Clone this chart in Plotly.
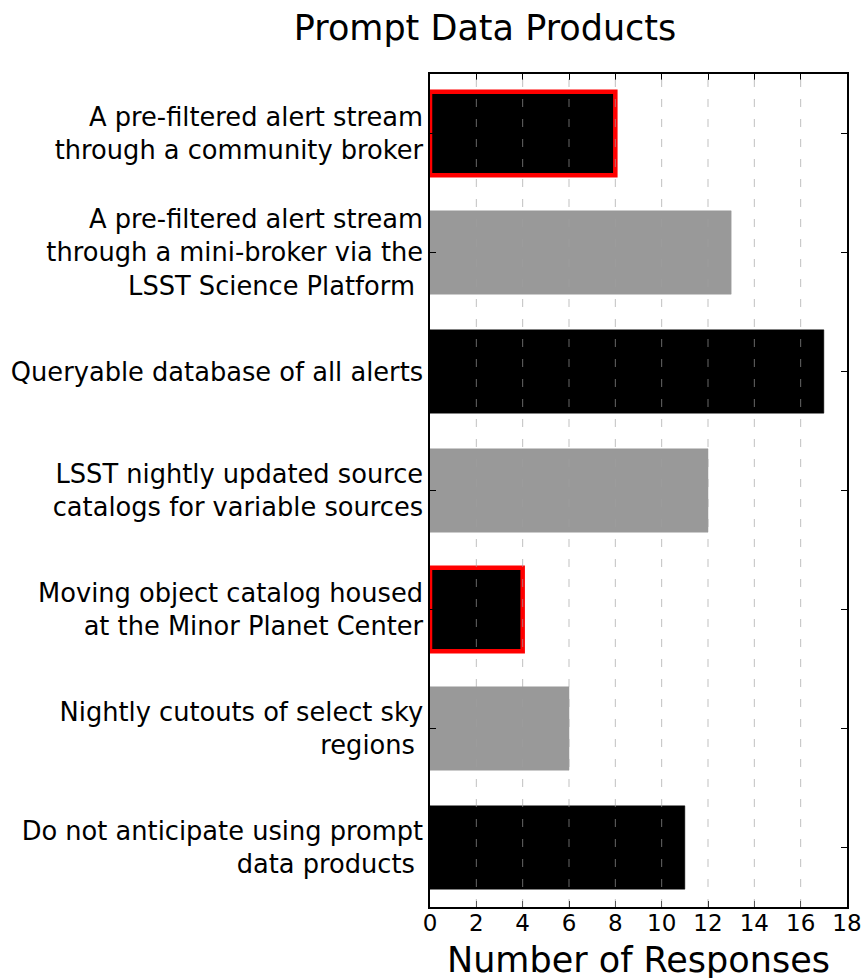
import plotly.graph_objects as go

categories = [
    "A pre-filtered alert stream<br>through a community broker",
    "A pre-filtered alert stream<br>through a mini-broker via the<br>LSST Science Platform\u00a0",
    "Queryable database of all alerts",
    "LSST nightly updated source<br>catalogs for variable sources",
    "Moving object catalog housed<br>at the Minor Planet Center",
    "Nightly cutouts of select sky<br>regions\u00a0",
    "Do not anticipate using prompt<br>data products\u00a0",
]
responses = [8, 13, 17, 12, 4, 6, 11]
highlighted = [True, False, False, False, True, False, False]
x_ticks = [0, 2, 4, 6, 8, 10, 12, 14, 16, 18]

positions = list(range(len(categories)))
fill_colors = ["#000000" if i % 2 == 0 else "#999999" for i in positions]
edge_colors = ["#ff0000" if h else c for h, c in zip(highlighted, fill_colors)]
edge_widths = [4.5 if h else 0.5 for h in highlighted]

FONT = "DejaVu Sans"
W, H = 863, 978

fig = go.Figure()
fig.add_trace(go.Bar(
    x=responses,
    y=positions,
    orientation="h",
    width=0.7,
    marker=dict(color=fill_colors, line=dict(color=edge_colors, width=edge_widths)),
    showlegend=False,
    hoverinfo="x",
))

# dashed vertical grid lines drawn above the bars
for t in x_ticks[1:-1]:
    fig.add_shape(
        type="line", xref="x", yref="paper", x0=t, x1=t, y0=0, y1=1,
        line=dict(color="rgba(160,160,160,0.65)", width=1, dash="8px,12px"),
        layer="above",
    )

# x-axis title as an annotation for exact placement
fig.add_annotation(
    text="Number of Responses", xref="paper", yref="paper",
    x=0.5, y=0, xanchor="center", yanchor="middle", yshift=-53,
    showarrow=False, font=dict(family=FONT, size=35, color="black"),
)

fig.update_layout(
    width=W, height=H,
    margin=dict(l=430, r=16, t=74, b=71, pad=0),
    paper_bgcolor="white", plot_bgcolor="white",
    font=dict(family=FONT, color="black"),
    title=dict(
        text="Prompt Data Products",
        font=dict(family=FONT, size=35, color="black"),
        xref="paper", x=0.132, xanchor="center",
        yref="container", y=1 - 28 / H, yanchor="middle",
    ),
)
fig.update_xaxes(
    range=[0, 18], tickvals=x_ticks, ticktext=[str(t) for t in x_ticks],
    showgrid=False, zeroline=False,
    showline=True, linecolor="black", linewidth=1.5, mirror="ticks",
    ticks="inside", ticklen=6, tickcolor="black", tickwidth=1,
    tickfont=dict(family=FONT, size=23, color="black"),
    ticklabeloverflow="allow", ticklabelstandoff=-5,
    layer="above traces",
    automargin=False,
)
fig.update_yaxes(
    range=[len(categories) - 0.5, -0.5],
    tickvals=positions, ticktext=categories,
    showgrid=False, zeroline=False,
    showline=True, linecolor="black", linewidth=1.5, mirror="ticks",
    ticks="inside", ticklen=6, tickcolor="black", tickwidth=1,
    tickfont=dict(family=FONT, size=25.7, color="black"),
    layer="above traces",
    automargin=False,
)

fig.write_html(
    "out.html",
    config={"displayModeBar": False},
    post_script="document.body.style.margin='0';document.body.style.overflow='hidden';",
)
